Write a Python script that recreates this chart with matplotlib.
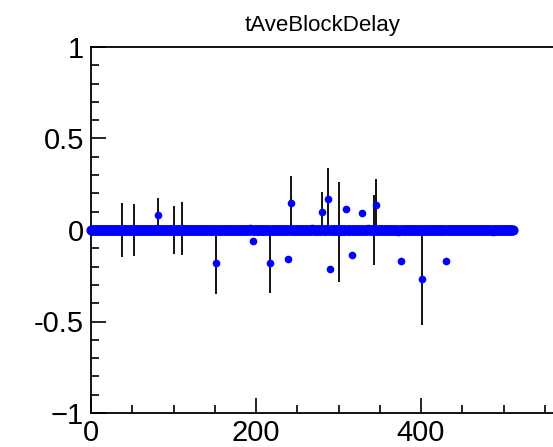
import numpy as np
import matplotlib
matplotlib.use("Agg")
import matplotlib.pyplot as plt
from matplotlib.ticker import MultipleLocator

plt.rcParams['font.family'] = ['Liberation Sans', 'DejaVu Sans']

title = "tAveBlockDelay"
n_bins = 512

# points that sit off the zero baseline or carry an error bar
pt_x   = [37, 52, 81, 101, 110, 151, 193, 196, 217, 239, 242, 268, 280, 287, 290,
          300, 309, 316, 328, 336, 343, 346, 372, 376, 401, 430, 487]
pt_y   = [0.0, 0.0, 0.08, 0.0, 0.01, -0.18, 0.01, -0.06, -0.18, -0.16, 0.147, 0.01, 0.10, 0.17, -0.213,
          -0.01, 0.115, -0.137, 0.095, 0.01, 0.0, 0.137, -0.01, -0.17, -0.268, -0.17, -0.01]
pt_err = [0.145, 0.14, 0.093, 0.13, 0.145, 0.17, 0.0, 0.0, 0.165, 0.0, 0.15, 0.0, 0.107, 0.17, 0.0,
          0.275, 0.0, 0.0, 0.0, 0.0, 0.19, 0.14, 0.0, 0.0, 0.25, 0.0, 0.0]

xticks = [0, 200, 400]
xticklabels = ["0", "200", "400"]
yticks = [-1, -0.5, 0, 0.5, 1]
yticklabels = ["\u22121", "-0.5", "0", "0.5", "1"]

W, H = 553, 447
fig = plt.figure(figsize=(W / 100, H / 100), dpi=100)
left_px, bottom_px, top_px = 91, 413, 47
xmax = 600
px_per_unit = 0.825
ax = fig.add_axes([left_px / W, (H - bottom_px) / H,
                   xmax * px_per_unit / W, (bottom_px - top_px) / H])

blue = "#0000ff"
base_x = [i for i in range(n_bins) if i not in pt_x]
base_y = [0.0] * len(base_x)
ax.plot(base_x, base_y, linestyle="none", marker="o", ms=6.3, color=blue,
        mec=blue, clip_on=False, zorder=3)

ex = [x for x, e in zip(pt_x, pt_err) if e > 0]
ey = [y for y, e in zip(pt_y, pt_err) if e > 0]
ee = [e for e in pt_err if e > 0]
ax.errorbar(ex, ey, yerr=ee, fmt="none", ecolor="black", elinewidth=1.3,
            capsize=0, zorder=2)
ax.plot(pt_x, pt_y, linestyle="none", marker="o", ms=4.5, color=blue,
        mec=blue, zorder=4)

ax.set_xlim(0, xmax)
ax.set_ylim(-1, 1)
ax.set_xticks(xticks)
ax.set_xticklabels(xticklabels)
ax.set_yticks(yticks)
ax.set_yticklabels(yticklabels)
ax.xaxis.set_minor_locator(MultipleLocator(50))
ax.yaxis.set_minor_locator(MultipleLocator(0.1))
ax.tick_params(axis="both", which="major", direction="in", length=11, width=1.2,
               labelsize=21, color="black")
ax.tick_params(axis="both", which="minor", direction="in", length=6, width=1.2)
ax.tick_params(axis="x", pad=4)
ax.tick_params(axis="y", pad=5)
ax.tick_params(top=False, right=False, which="both")
for s in ["left", "bottom", "top"]:
    ax.spines[s].set_linewidth(1.3)
ax.spines["right"].set_visible(False)

fig.text(323 / W, 1 - 31 / H, title, ha="center", va="baseline", fontsize=16)

fig.savefig("out.png", dpi=100)
